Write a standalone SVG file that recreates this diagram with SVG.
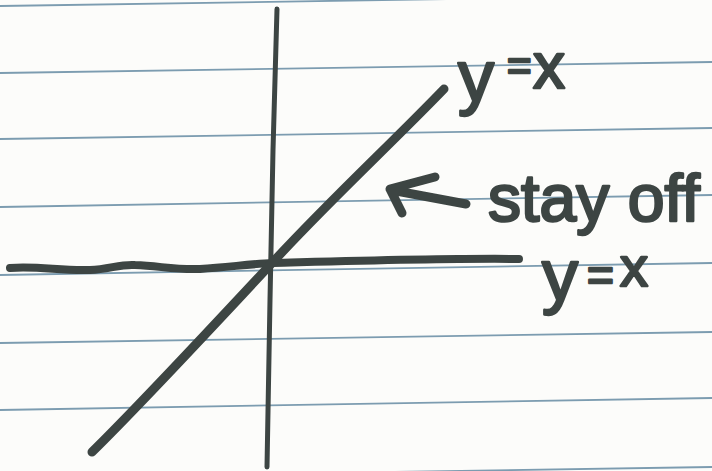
<svg xmlns="http://www.w3.org/2000/svg" width="712" height="471" viewBox="0 0 712 471">
  <style>
    .rule { stroke: #7c9cb0; stroke-width: 1.8; fill: none; }
    .ink { stroke: #3d4543; fill: none; stroke-linecap: round; stroke-linejoin: round; }
    .label { font-family: "Liberation Sans", Arial, sans-serif; fill: #3d4543; stroke: #3d4543; stroke-width: 2.5; stroke-linejoin: round; }
  </style>
  <rect width="712" height="471" fill="#fcfcfa"/>
  <g id="paper-lines">
    <line class="rule" x1="0" y1="6" x2="712" y2="-5"/>
    <line class="rule" x1="0" y1="73" x2="712" y2="62"/>
    <line class="rule" x1="0" y1="139" x2="712" y2="128"/>
    <line class="rule" x1="0" y1="207" x2="712" y2="195"/>
    <line class="rule" x1="0" y1="275" x2="712" y2="263"/>
    <line class="rule" x1="0" y1="343" x2="712" y2="332"/>
    <line class="rule" x1="0" y1="410" x2="712" y2="398"/>
    <line class="rule" x1="0" y1="478" x2="712" y2="467"/>
  </g>
  <g id="connectors">
    <path id="y-axis" class="ink" stroke-width="5" d="M277,9 L273,150 L270,300 L267,467"/>
    <path id="x-axis" class="ink" stroke-width="8" d="M10,268 C40,266 60,271 90,270 C110,269 120,264 135,265 C160,266 175,270 200,269 C230,267 250,264 273,263 C350,261 450,258 519,259"/>
    <path id="diagonal" class="ink" stroke-width="9" d="M92,452 C140,405 200,340 272,263 C330,200 390,145 444,89"/>
    <path id="arrow" class="ink" stroke-width="9" d="M435,177 L390,189 L402,213 M391,190 L466,204"/>
  </g>
  <g id="label-top">
    <text class="label" x="458" y="101" font-size="72">y<tspan x="507" y="80" font-size="42">=</tspan><tspan x="533" y="88" font-size="64">x</tspan></text>
  </g>
  <g id="label-stay-off">
    <text class="label" x="488" y="221" font-size="66" textLength="212" lengthAdjust="spacingAndGlyphs">stay off</text>
  </g>
  <g id="label-bottom">
    <text class="label" x="542" y="300" font-size="72">y<tspan x="587" y="291" font-size="46">=</tspan><tspan x="620" y="286" font-size="56">x</tspan></text>
  </g>
</svg>
